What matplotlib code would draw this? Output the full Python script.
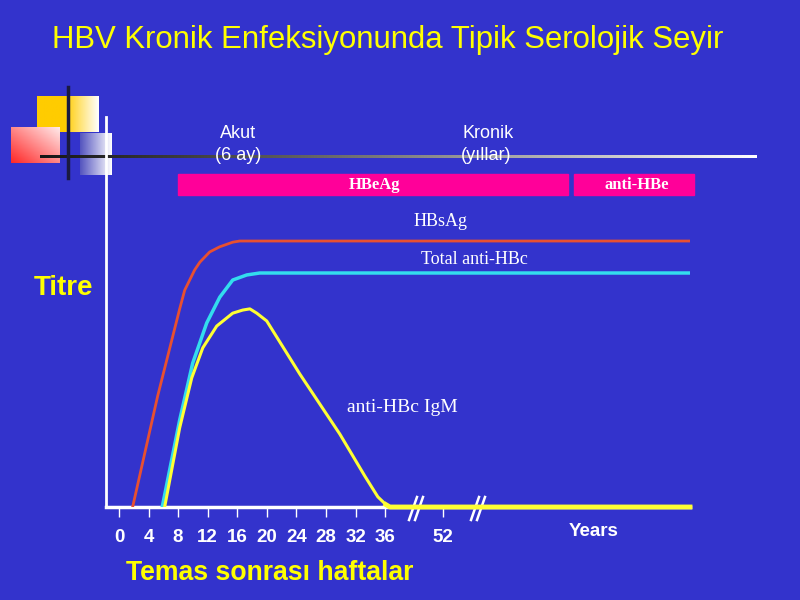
import numpy as np
import matplotlib
matplotlib.use("Agg")
import matplotlib.pyplot as plt

BG = "#3333CC"
SANS = "Liberation Sans"
SERIF = "Liberation Serif"

# --- data (weeks after exposure, relative titre) ---
hbsag_weeks = [1.85, 5.24, 8.21, 8.89, 10.24, 10.95, 12.27, 13.6, 15.38, 16.33, 120]
hbsag_titre = [0, 28.5, 50.8, 55.6, 60.8, 62.8, 65.4, 66.7, 67.9, 68.2, 68.2]

anti_hbc_weeks = [5.85, 8.21, 9.97, 11.87, 13.63, 15.38, 17.28, 19.04, 120]
anti_hbc_titre = [0, 22.3, 36.9, 47.2, 53.8, 58.2, 59.5, 60.0, 60.0]

igm_weeks = [6.18, 8.21, 9.84, 11.33, 13.22, 15.38, 16.74, 17.7, 18.63, 19.98,
             24.45, 29.86, 33.25, 35.0, 36.2, 37.28, 120]
igm_titre = [0, 20.3, 33.1, 40.8, 46.4, 49.7, 50.5, 50.8, 49.7, 47.7,
             34.1, 18.7, 7.9, 2.6, 0.6, 0, 0]

tick_weeks = [0, 4, 8, 12, 16, 20, 24, 28, 32, 36, 52]
tick_labels = [str(w) for w in tick_weeks]

# piecewise axis: weeks 0-36 linear, then compressed up to 52 and the years part
wk_pts = np.array([-20, 36, 52, 120])
un_pts = np.array([-20, 36, 43.85, 77.2])


def fwd(x):
    return np.interp(x, wk_pts, un_pts)


def inv(u):
    return np.interp(u, un_pts, wk_pts)


fig = plt.figure(figsize=(8, 6), dpi=100, facecolor=BG)

# --- background layer in pixel coordinates for decorations ---
bg = fig.add_axes([0, 0, 1, 1])
bg.axis("off")
bg.set_facecolor(BG)

n = 100
t = np.linspace(0, 1, n)

# yellow square
gold = np.array([1.0, 0.8, 0.0])
w = np.clip((t - 0.45) / 0.55, 0, 1)[None, :, None]
img = gold * (1 - w) + np.ones(3) * w
img = np.repeat(img, 10, axis=0)
bg.imshow(img, extent=[37, 99, 132, 96], aspect="auto", zorder=1)

# red square, diagonal gradient
xx, yy = np.meshgrid(t, t)
d = ((xx + yy) / 2)[:, :, None]
red = np.array([1.0, 0.15, 0.15])
pale = np.array([1.0, 0.92, 0.92])
img = red * (1 - d) + pale * d
bg.imshow(img, extent=[11, 60, 163, 127], aspect="auto", zorder=2, origin="lower")

# blue-white square
blue = np.array([0.33, 0.33, 0.75])
w = t[None, :, None]
img = blue * (1 - w) + np.ones(3) * w
img = np.repeat(img, 10, axis=0)
bg.imshow(img, extent=[80, 112, 175, 133], aspect="auto", zorder=2)

# dark vertical line
bg.plot([68, 68], [87, 178], color="#1A1A40", lw=2.5, zorder=4)

# horizontal gradient line
g = np.linspace(0.13, 1.0, 300) ** 1.2
img = np.repeat(np.stack([g, g, g], axis=-1)[None, :, :], 3, axis=0)
bg.imshow(img, extent=[40, 757, 158.5, 155.5], aspect="auto", zorder=3)

bg.set_xlim(0, 800)
bg.set_ylim(600, 0)

# phase bars
bg.add_patch(plt.Rectangle((178, 174), 390, 21, color="#FF0099", zorder=3))
bg.add_patch(plt.Rectangle((574, 174), 120, 21, color="#FF0099", zorder=3))
bg.text(375, 185, "HBeAg", color="white", fontsize=12, fontweight="bold",
        family=SERIF, ha="center", va="center", zorder=5)
bg.text(637, 185, "anti-HBe", color="white", fontsize=12, fontweight="bold",
        family=SERIF, ha="center", va="center", zorder=5)

# phase labels
bg.text(238, 133, "Akut", color="white", fontsize=13, family=SANS,
        ha="center", va="center", zorder=5)
bg.text(238, 156, "(6 ay)", color="white", fontsize=13, family=SANS,
        ha="center", va="center", zorder=5)
bg.text(462, 133, "Kronik", color="white", fontsize=13, family=SANS,
        ha="left", va="center", zorder=5)
bg.text(461, 156, "(yıllar)", color="white", fontsize=13, family=SANS,
        ha="left", va="center", zorder=5)

# title and axis titles
bg.text(388, 40, "HBV Kronik Enfeksiyonunda Tipik Serolojik Seyir", color="#FFFF00",
        fontsize=22.4, family=SANS, ha="center", va="center")
bg.text(63, 288, "Titre", color="#FFFF00", fontsize=20, fontweight="bold",
        family=SANS, ha="center", va="center")
bg.text(270, 573, "Temas sonrası haftalar", color="#FFFF00", fontsize=19.2,
        fontweight="bold", family=SANS, ha="center", va="center")
bg.text(594, 532, "Years", color="white", fontsize=13.5, fontweight="bold",
        family=SANS, ha="center", va="center")

# series labels
bg.text(441, 222, "HBsAg", color="white", fontsize=13, family=SERIF, ha="center", va="center")
bg.text(474, 260, "Total anti-HBc", color="white", fontsize=13, family=SERIF, ha="center", va="center")
bg.text(402, 407, "anti-HBc IgM", color="white", fontsize=14, family=SERIF, ha="center", va="center")

# axis break marks
for bx in (416, 478):
    for dx in (-3, 3):
        bg.plot([bx + dx + 4, bx + dx - 4], [497, 520], color="white", lw=1.8, zorder=6)

# --- main chart ---
ax = fig.add_axes([106 / 800, 93 / 600, 584 / 800, 390 / 600])
ax.patch.set_alpha(0)
ax.set_xscale("function", functions=(fwd, inv))
ax.set_xlim(inv(-1.75), 120)
ax.set_ylim(0, 100)

ax.plot(hbsag_weeks, hbsag_titre, color="#E85030", lw=2, zorder=3)
ax.plot(anti_hbc_weeks, anti_hbc_titre, color="#33DDEE", lw=2.5, zorder=3)
ax.plot(igm_weeks[:-2], igm_titre[:-2], color="#FFFF33", lw=2.2, zorder=4)
ax.plot(igm_weeks[-3:], igm_titre[-3:], color="#FFFF33", lw=3.5, zorder=6, clip_on=False)

for s in ("top", "right"):
    ax.spines[s].set_visible(False)
ax.spines["left"].set_color("white")
ax.spines["left"].set_linewidth(2)
ax.spines["bottom"].set_color("white")
ax.spines["bottom"].set_linewidth(2.5)
ax.set_yticks([])
ax.set_xticks(tick_weeks)
ax.set_xticklabels(tick_labels)
ax.minorticks_off()
ax.tick_params(axis="x", colors="white", length=7, width=1, direction="out", pad=9)
for lab in ax.get_xticklabels():
    lab.set_fontweight("bold")
    lab.set_fontsize(13.5)
    lab.set_family(SANS)

fig.savefig("out.png", dpi=100, facecolor=BG)
